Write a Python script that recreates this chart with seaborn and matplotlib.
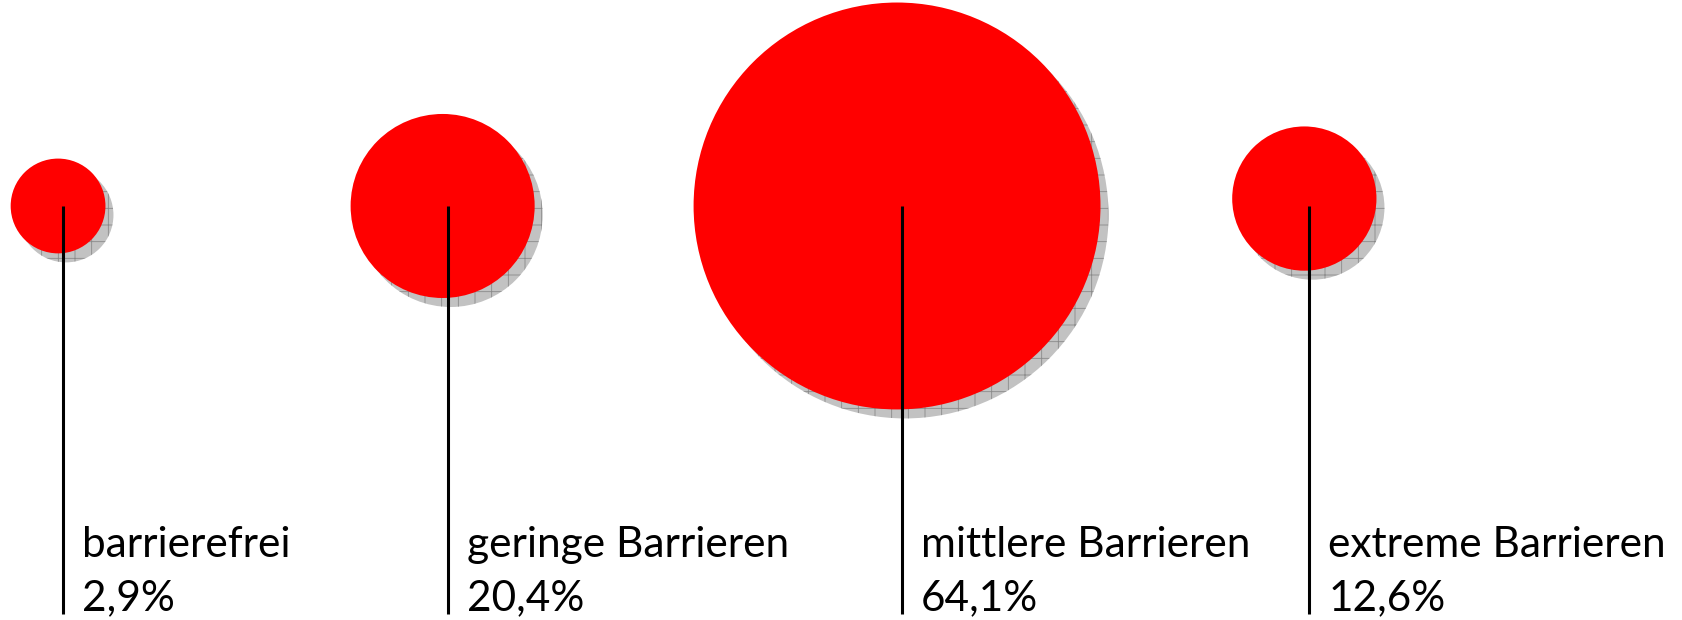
import numpy as np
import pandas as pd
import matplotlib
matplotlib.use("Agg")
import matplotlib.pyplot as plt
import matplotlib.transforms as mtransforms
import seaborn as sns

# chart data
categories = ["barrierefrei", "geringe Barrieren", "mittlere Barrieren", "extreme Barrieren"]
shares = [2.9, 20.4, 64.1, 12.6]
share_labels = ["2,9%", "20,4%", "64,1%", "12,6%"]
bubble_x = [3.45, 26.3, 53.3, 77.5]
bubble_y = [0.0, 0.0, 0.0, 0.036]

DPI = 100


def bubble_area(value):
    """Bubble width grows linearly with the share (px -> points^2)."""
    diam_px = 80 + 5.1 * value
    return (diam_px * 72 / DPI) ** 2


df = pd.DataFrame({"category": categories, "share": shares,
                   "x": bubble_x, "y": bubble_y})
areas = np.array([bubble_area(v) for v in df["share"]])

sns.set_theme(style="white")
plt.rcParams["font.family"] = ["Lato", "DejaVu Sans"]
plt.rcParams["hatch.linewidth"] = 0.6

fig = plt.figure(figsize=(16.83, 6.2), dpi=DPI)
ax = fig.add_axes([0, 0, 1, 1])

# shadow bubbles, shifted down-right
sns.scatterplot(data=df, x="x", y="y", s=areas, color="#c2c2c2",
                edgecolor="#8a8a8a", linewidth=0, hatch="+", ax=ax, zorder=1)
shadow = ax.collections[-1]
shift = mtransforms.ScaledTranslation(8 / DPI, -9 / DPI, fig.dpi_scale_trans)
shadow.set_offset_transform(ax.transData + shift)

# red bubbles
sns.scatterplot(data=df, x="x", y="y", s=areas, color="#ff0000",
                edgecolor="none", linewidth=0, ax=ax, zorder=2)

ax.set_xlim(0, 100)
ax.set_ylim(-2.01, 1.0)
ax.set_axis_off()

# leader lines from bubble centre down to the labels
line_shift = mtransforms.ScaledTranslation(5 / DPI, 0, fig.dpi_scale_trans)
ax.vlines(df["x"], -1.98, 0, colors="black", linewidth=2.2, zorder=3,
          transform=ax.transData + line_shift)

# labels
text_trans = mtransforms.blended_transform_factory(ax.transData, ax.transAxes)
text_shift = mtransforms.ScaledTranslation(24 / DPI, 0, fig.dpi_scale_trans)
for x, name, pct in zip(df["x"], categories, share_labels):
    ax.text(x, 1 - 557 / 620, name, transform=text_trans + text_shift,
            ha="left", va="baseline", fontsize=30.5, color="black")
    ax.text(x, 1 - 610 / 620, pct, transform=text_trans + text_shift,
            ha="left", va="baseline", fontsize=30.5, color="black")

fig.savefig("out.png", dpi=DPI)
